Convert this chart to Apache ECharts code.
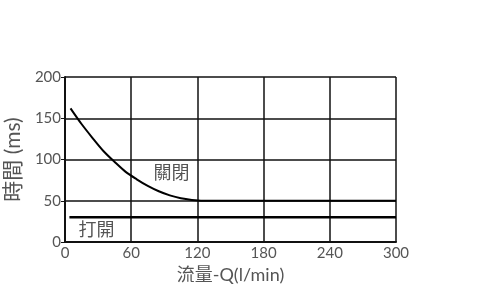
<!DOCTYPE html>
<html><head><meta charset="utf-8">
<script src="https://cdn.jsdelivr.net/npm/echarts@6/dist/echarts.min.js"></script>
<style>html,body{margin:0;padding:0;background:#fff}#c{width:500px;height:288px}</style>
</head><body><div id="c"></div>
<script>
const xTicks = [0, 60, 120, 180, 240, 300];
const yTicks = [0, 50, 100, 150, 200];
const closeX = [5, 15, 25, 35, 45, 55, 65, 75, 85, 95, 105, 115, 125, 300];
const closeY = [162, 143, 126, 110, 97, 85, 76, 68, 61.5, 56.5, 53, 51, 50, 50];
const openX = [4, 300];
const openY = [30, 30];
const closeLabel = '關閉';
const openLabel = '打開';
const closeLabelPos = [96.5, 83];
const openLabelPos = [28.5, 14.5];

const chart = echarts.init(document.getElementById('c'));
const txt = '#555';
const font = 'Lato, "Noto Sans CJK TC", sans-serif';
chart.setOption({
  animation: false,
  grid: {left: 65, right: 104, top: 77, bottom: 46, containLabel: false, outerBoundsMode: 'none'},
  xAxis: {
    type: 'value', min: xTicks[0], max: xTicks[xTicks.length-1], interval: 60,
    name: '流量-Q(l/min)', nameLocation: 'middle', nameGap: 21,
    nameTextStyle: {color: txt, fontSize: 18, fontFamily: font},
    axisLine: {lineStyle: {color: '#111', width: 2}},
    axisTick: {show: false},
    axisLabel: {color: txt, fontSize: 15, fontFamily: font, margin: 4},
    splitLine: {show: true, lineStyle: {color: '#111', width: 1.5}}
  },
  yAxis: {
    type: 'value', min: yTicks[0], max: yTicks[yTicks.length-1], interval: 50,
    name: '時間 (ms)', nameLocation: 'middle', nameGap: 37, nameRotate: 90,
    nameTextStyle: {color: txt, fontSize: 21, fontFamily: font},
    axisLine: {show: true, lineStyle: {color: '#111', width: 2}},
    axisTick: {show: true, length: 4, lineStyle: {color: '#111'}},
    axisLabel: {color: txt, fontSize: 15, fontFamily: font, margin: 4},
    splitLine: {show: true, lineStyle: {color: '#111', width: 1.5}}
  },
  series: [
    {
      type: 'line', smooth: 0.3, symbol: 'none',
      lineStyle: {color: '#000', width: 2},
      data: closeX.map((x, i) => [x, closeY[i]])
    },
    {
      type: 'line', symbol: 'none',
      lineStyle: {color: '#000', width: 2.5},
      data: openX.map((x, i) => [x, openY[i]])
    }
  ]
});
const p1 = chart.convertToPixel({gridIndex: 0}, closeLabelPos);
const p2 = chart.convertToPixel({gridIndex: 0}, openLabelPos);
chart.setOption({
  graphic: [
    {type: 'text', x: p1[0], y: p1[1], style: {text: closeLabel, fill: txt, font: '18px ' + font, align: 'center', verticalAlign: 'middle'}},
    {type: 'text', x: p2[0], y: p2[1], style: {text: openLabel, fill: txt, font: '18px ' + font, align: 'center', verticalAlign: 'middle'}}
  ]
});
</script></body></html>
